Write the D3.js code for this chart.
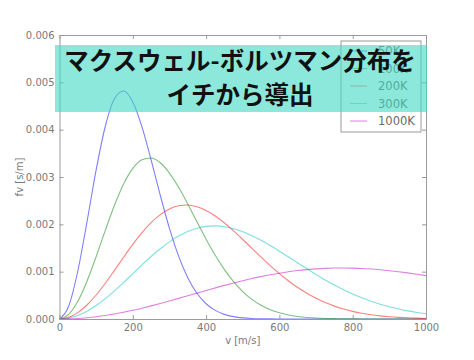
<!DOCTYPE html>
<html>
<head>
<meta charset="utf-8">
<script src="https://cdn.jsdelivr.net/npm/d3@7"></script>
<style>
  body { margin: 0; background: #fff; }
  svg { display: block; }
</style>
</head>
<body>
<div id="chart"></div>
<script>
// speed grid [m/s]
var speeds = [0, 25, 50, 75, 100, 125, 150, 175, 200, 225, 250, 275, 300, 325, 350, 375, 400,
  425, 450, 475, 500, 525, 550, 575, 600, 625, 650, 675, 700, 725, 750, 775, 800,
  825, 850, 875, 900, 925, 950, 975, 1000];

var temps = ['50K', '100K', '200K', '300K', '1000K'];

// f(v) [s/m]
var f50K = [0, 0.000270, 0.001014, 0.002053, 0.003150, 0.004072, 0.004652, 0.004816, 0.004587,
  0.004059, 0.003359, 0.002612, 0.001916, 0.001329, 0.000873, 0.000544, 0.000322, 0.000182,
  0.000098, 0.000050, 0.000024, 0.000011, 0.000005, 0.000002, 0.000001, 0, 0, 0, 0, 0, 0,
  0, 0, 0, 0, 0, 0, 0, 0, 0, 0];
var f100K = [0, 0.0000965, 0.000374, 0.000798, 0.001318, 0.001873, 0.002402, 0.002852, 0.003181,
  0.003366, 0.003402, 0.003301, 0.003083, 0.002782, 0.002428, 0.002054, 0.001687, 0.001345,
  0.001043, 0.000788, 0.000579, 0.000414, 0.000289, 0.000197, 0.000131, 0.000085, 0.000054,
  0.000033, 0.000020, 0.000012, 0.000007, 0.000004, 0.000002, 0.000001, 0, 0, 0, 0, 0, 0, 0];
var f200K = [0, 0.000034, 0.000135, 0.000296, 0.000507, 0.000755, 0.001027, 0.001305, 0.001575,
  0.001823, 0.002036, 0.002206, 0.002326, 0.002393, 0.002408, 0.002373, 0.002293, 0.002176,
  0.002029, 0.001861, 0.001680, 0.001492, 0.001306, 0.001127, 0.000958, 0.000803, 0.000664,
  0.000542, 0.000436, 0.000347, 0.000272, 0.000211, 0.000161, 0.000122, 0.000091, 0.000067,
  0.000049, 0.000035, 0.000025, 0.000018, 0.000012];
var f300K = [0, 0.000019, 0.000074, 0.000164, 0.000284, 0.000430, 0.000595, 0.000774, 0.000959,
  0.001144, 0.001321, 0.001485, 0.001630, 0.001752, 0.001848, 0.001917, 0.001956, 0.001967,
  0.001950, 0.001908, 0.001844, 0.001761, 0.001662, 0.001551, 0.001432, 0.001309, 0.001184,
  0.001060, 0.000940, 0.000825, 0.000718, 0.000619, 0.000529, 0.000448, 0.000376, 0.000313,
  0.000258, 0.000211, 0.000171, 0.000137, 0.000110];
var f1000K = [0, 0.000003, 0.000012, 0.000028, 0.000049, 0.000075, 0.000107, 0.000143, 0.000184,
  0.000229, 0.000277, 0.000328, 0.000381, 0.000436, 0.000492, 0.000547, 0.000603, 0.000657,
  0.000710, 0.000761, 0.000809, 0.000855, 0.000896, 0.000934, 0.000968, 0.000998, 0.001023,
  0.001043, 0.001059, 0.001070, 0.001076, 0.001077, 0.001074, 0.001067, 0.001055, 0.001040,
  0.001021, 0.000999, 0.000974, 0.000946, 0.000916];

var series = [f50K, f100K, f200K, f300K, f1000K];
var colors = ['#0000ff', '#008000', '#ff0000', '#00bfbf', '#bf00bf'];

var xTicks = [0, 200, 400, 600, 800, 1000];
var yTicks = [0, 0.001, 0.002, 0.003, 0.004, 0.005, 0.006];

var titleLines = ['マクスウェル-ボルツマン分布を', 'イチから導出'];

var W = 474, H = 360;
var margin = { top: 35, right: 48, bottom: 41, left: 59.5 };

var svg = d3.select('#chart').append('svg')
  .attr('width', W)
  .attr('height', H);

var x = d3.scaleLinear().domain([0, 1000]).range([margin.left, W - margin.right]);
var y = d3.scaleLinear().domain([0, 0.006]).range([H - margin.bottom, margin.top]);

var axisGrey = '#9a9a9a';
var textGrey = '#7a7a7a';

// curves
var line = d3.line()
  .x(function(d, i) { return x(speeds[i]); })
  .y(function(d) { return y(d); })
  .curve(d3.curveMonotoneX);

series.forEach(function(s, i) {
  svg.append('path')
    .datum(s)
    .attr('d', line)
    .attr('fill', 'none')
    .attr('stroke', colors[i])
    .attr('stroke-opacity', 0.5)
    .attr('stroke-width', 1.1);
});

// axes, ticks pointing inward on all four sides
function styleAxis(g) {
  g.selectAll('.domain').attr('stroke', axisGrey);
  g.selectAll('.tick line').attr('stroke', axisGrey);
  g.selectAll('.tick text')
    .attr('fill', textGrey)
    .style('font-family', '"DejaVu Sans", sans-serif')
    .style('font-size', '10px');
}

svg.append('g')
  .attr('transform', 'translate(0,' + y(0) + ')')
  .call(d3.axisBottom(x).tickValues(xTicks).tickSizeInner(-4).tickSizeOuter(0).tickPadding(5)
    .tickFormat(d3.format('d')))
  .call(styleAxis);

svg.append('g')
  .attr('transform', 'translate(0,' + y(0.006) + ')')
  .call(d3.axisTop(x).tickValues(xTicks).tickSizeInner(-4).tickSizeOuter(0).tickFormat(''))
  .call(styleAxis);

svg.append('g')
  .attr('transform', 'translate(' + x(0) + ',0)')
  .call(d3.axisLeft(y).tickValues(yTicks).tickSizeInner(-4).tickSizeOuter(0).tickPadding(5)
    .tickFormat(d3.format('.3f')))
  .call(styleAxis);

svg.append('g')
  .attr('transform', 'translate(' + x(1000) + ',0)')
  .call(d3.axisRight(y).tickValues(yTicks).tickSizeInner(-4).tickSizeOuter(0).tickFormat(''))
  .call(styleAxis);

// axis labels
svg.append('text')
  .attr('x', (x(0) + x(1000)) / 2)
  .attr('y', 344)
  .attr('text-anchor', 'middle')
  .attr('fill', textGrey)
  .style('font-family', '"DejaVu Sans", sans-serif')
  .style('font-size', '10px')
  .text('v [m/s]');

svg.append('text')
  .attr('transform', 'translate(23,' + (y(0) + y(0.006)) / 2 + ') rotate(-90)')
  .attr('text-anchor', 'middle')
  .attr('fill', textGrey)
  .style('font-family', '"DejaVu Sans", sans-serif')
  .style('font-size', '10px')
  .text('fv [s/m]');

// legend (partly hidden under the banner, as in the original)
var legend = svg.append('g').attr('transform', 'translate(341,41)');
legend.append('rect')
  .attr('width', 80)
  .attr('height', 91)
  .attr('fill', '#fff')
  .attr('stroke', axisGrey)
  .attr('stroke-width', 1);

temps.forEach(function(t, i) {
  var ly = 10 + i * 17.5;
  legend.append('line')
    .attr('x1', 9).attr('x2', 26)
    .attr('y1', ly).attr('y2', ly)
    .attr('stroke', colors[i])
    .attr('stroke-opacity', 0.5);
  legend.append('text')
    .attr('x', 37)
    .attr('y', ly)
    .attr('dy', '0.35em')
    .attr('fill', '#6a6a6a')
    .style('font-family', '"DejaVu Sans", sans-serif')
    .style('font-size', '11.5px')
    .text(t);
});

// title banner over the plot
svg.append('rect')
  .attr('x', 55)
  .attr('y', 45)
  .attr('width', 372)
  .attr('height', 67)
  .attr('fill', '#3fd9c2')
  .attr('fill-opacity', 0.6);

titleLines.forEach(function(t, i) {
  svg.append('text')
    .attr('x', 240)
    .attr('y', 61 + i * 34.5)
    .attr('dy', '0.36em')
    .attr('text-anchor', 'middle')
    .attr('fill', '#111')
    .style('font-family', '"Noto Sans CJK JP", sans-serif')
    .style('font-weight', 'bold')
    .style('font-size', '24.5px')
    .text(t);
});
</script>
</body>
</html>
